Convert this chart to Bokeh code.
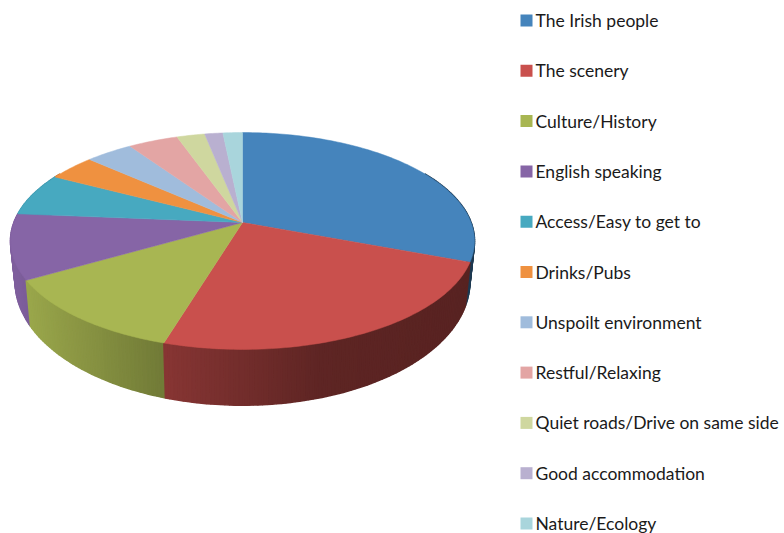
import numpy as np
from bokeh.plotting import figure
from bokeh.core.properties import value
from bokeh.embed import file_html
from bokeh.resources import INLINE

categories = ["The Irish people", "The scenery", "Culture/History", "English speaking",
              "Access/Easy to get to", "Drinks/Pubs", "Unspoilt environment", "Restful/Relaxing",
              "Quiet roads/Drive on same side", "Good accommodation", "Nature/Ecology"]
shares = [30.8, 23.9, 12.0, 9.7, 6.4, 3.9, 3.9, 4.1, 2.3, 1.5, 1.6]
colors = ["#4584BC", "#C9504D", "#A8B652", "#8665A6", "#47A9C0", "#EF9140",
          "#A0BCDC", "#E3A5A4", "#CFD79F", "#B9B0D0", "#A9D5DC"]

# perspective projection of the disc, in page pixels
CX, K = 242.0, 0.1705
TOP_Y, TOP_A, TOP_B = 222.0, 228.6, 105.3
BOT_Y, BOT_A, BOT_B = 260.0, 224.0, 120.0


def project(deg, y0, a, b):
    t = np.radians(deg)
    w = 1 + K * np.cos(t)
    return CX + a * np.sin(t) / w, y0 - b * np.cos(t) / w


def shade(hex_color, x):
    f = np.interp(x, [15, 26, 160, 320, 470], [0.95, 0.92, 0.68, 0.47, 0.44])
    rgb = [int(hex_color[i:i + 2], 16) for i in (1, 3, 5)]
    return "#%02x%02x%02x" % tuple(int(c * f) for c in rgb)


p = figure(width=784, height=533, x_range=(0, 784), y_range=(533, 0),
           output_backend="svg", toolbar_location=None, min_border=0,
           x_axis_location=None, y_axis_location=None, outline_line_color=None)
p.grid.visible = False
p.background_fill_color = "white"
p.border_fill_color = "white"

edges = np.concatenate([[0], np.cumsum(shares)]) / np.sum(shares) * 360

# side wall, back to front
strips = []
for i in range(len(shares)):
    t0, t1 = max(edges[i], 60), min(edges[i + 1], 300)
    if t1 <= t0:
        continue
    ts = np.linspace(t0, t1, int((t1 - t0) / 1.0) + 2)
    for a, b in zip(ts[:-1], ts[1:]):
        strips.append((abs((a + b) / 2 - 180), a, b, colors[i]))
strips.sort(key=lambda s: -s[0])
xs, ys, cs = [], [], []
for _, a, b, c in strips:
    xa, ya = project(a, TOP_Y, TOP_A, TOP_B)
    xb, yb = project(b, TOP_Y, TOP_A, TOP_B)
    xc, yc = project(b, BOT_Y, BOT_A, BOT_B)
    xd, yd = project(a, BOT_Y, BOT_A, BOT_B)
    xs.append([xa, xb, xc, xd])
    ys.append([ya, yb, yc, yd])
    cs.append(shade(c, (xa + xb) / 2))
p.patches(xs, ys, fill_color=cs, line_color=cs, line_width=1.6)

# top face
for i, c in enumerate(colors):
    ts = np.linspace(edges[i], edges[i + 1], int(edges[i + 1] - edges[i]) + 3)
    x, y = project(ts, TOP_Y, TOP_A, TOP_B)
    p.patch(np.r_[CX, x], np.r_[TOP_Y, y], fill_color=c, line_color=c, line_width=0.5)

# legend
lx = np.full(len(categories), 526.0)
ly = 20 + np.arange(len(categories)) * 50.3
p.scatter(lx, ly, marker="square", size=12, fill_color=colors, line_color=None)
p.text(lx + 9, ly, text=categories, text_font=value("Lato"), text_font_size="17.5px",
       text_color="#1a1a1a", text_baseline="middle", text_align="left")

open("out.html", "w").write(file_html(p, INLINE))
